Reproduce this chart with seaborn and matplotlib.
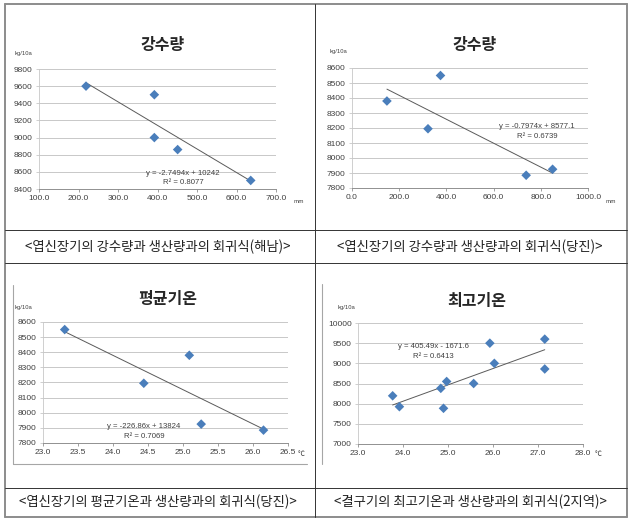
import numpy as np
import matplotlib
matplotlib.use("Agg")
import matplotlib.pyplot as plt
import seaborn as sns
from matplotlib.lines import Line2D
from matplotlib.ticker import FormatStrFormatter, MultipleLocator

# ---- data ----
rain_hn_x = [219, 392, 392, 451, 636]
rain_hn_y = [9600, 9500, 9000, 8860, 8500]
rain_hn_fit = [-2.7494, 10242]
rain_hn_r2 = "0.8077"

rain_dj_x = [148, 322, 375, 738, 850]
rain_dj_y = [8380, 8195, 8550, 7885, 7925]
rain_dj_fit = [-0.7974, 8577.1]
rain_dj_r2 = "0.6739"

tavg_dj_x = [23.31, 24.44, 25.09, 25.26, 26.15]
tavg_dj_y = [8550, 8195, 8380, 7925, 7885]
tavg_dj_fit = [-226.86, 13824]
tavg_dj_r2 = "0.7069"

tmax_x = [23.77, 23.92, 24.84, 24.90, 24.97, 25.57, 25.93, 26.03, 27.15, 27.15]
tmax_y = [8195, 7925, 8380, 7885, 8550, 8500, 9500, 9000, 9600, 8860]
tmax_fit = [405.49, -1671.6]
tmax_r2 = "0.6413"

titles = ["강수량", "강수량", "평균기온", "최고기온"]
captions = ["<엽신장기의 강수량과 생산량과의 회귀식(해남)>",
            "<엽신장기의 강수량과 생산량과의 회귀식(당진)>",
            "<엽신장기의 평균기온과 생산량과의 회귀식(당진)>",
            "<결구기의 최고기온과 생산량과의 회귀식(2지역)>"]
eq_texts = ["y = -2.7494x + 10242", "y = -0.7974x + 8577.1",
            "y = -226.86x + 13824", "y = 405.49x - 1671.6"]
units = ["mm", "mm", "℃", "℃"]

sns.set_style("white")
plt.rcParams["font.family"] = ["Liberation Sans", "Noto Sans CJK KR"]

W, H = 635, 524
fig = plt.figure(figsize=(W / 100, H / 100), dpi=100)


def fx(px):
    return px / W


def fy(py):
    return 1 - py / H


def hline(y, x0, x1, color="#333333", lw=0.7):
    fig.add_artist(Line2D([fx(x0), fx(x1)], [fy(y), fy(y)], color=color, lw=lw))


def vline(x, y0, y1, color="#333333", lw=0.7):
    fig.add_artist(Line2D([fx(x), fx(x)], [fy(y0), fy(y1)], color=color, lw=lw))


# table lines
hline(4, 5, 627, "#8c8c8c", 1.4)
hline(517, 5, 627, "#8c8c8c", 1.4)
vline(5, 4, 517, "#8c8c8c", 1.4)
vline(627, 4, 517, "#8c8c8c", 1.4)
vline(315, 4, 517)
hline(230, 5, 627)
hline(263, 5, 627)
hline(488, 5, 627)

# chart-area borders in lower row
vline(13, 285, 464, "#a6a6a6", 0.8)
hline(464, 13, 307, "#a6a6a6", 0.8)
vline(322, 284, 464, "#a6a6a6", 0.8)

panels = [
    dict(x=rain_hn_x, y=rain_hn_y, fit=rain_hn_fit, r2=rain_hn_r2,
         box=(39, 69, 276, 189), xlim=(100, 700), xstep=100, ylim=(8400, 9800), ystep=200,
         xfmt="%.1f", title=(163, 45), kg=(15, 53), unit=(294, 201), eq=(183, 173), cap=(158, 247)),
    dict(x=rain_dj_x, y=rain_dj_y, fit=rain_dj_fit, r2=rain_dj_r2,
         box=(352, 68, 588, 188), xlim=(0, 1000), xstep=200, ylim=(7800, 8600), ystep=100,
         xfmt="%.1f", title=(475, 45), kg=(330, 52), unit=(605, 201), eq=(537, 126), cap=(470, 247)),
    dict(x=tavg_dj_x, y=tavg_dj_y, fit=tavg_dj_fit, r2=tavg_dj_r2,
         box=(43, 322, 288, 443), xlim=(23, 26.5), xstep=0.5, ylim=(7800, 8600), ystep=100,
         xfmt="%.1f", title=(168, 299), kg=(15, 307), unit=(298, 454), eq=(144, 426), cap=(158, 502)),
    dict(x=tmax_x, y=tmax_y, fit=tmax_fit, r2=tmax_r2,
         box=(358, 323, 583, 444), xlim=(23, 28), xstep=1, ylim=(7000, 10000), ystep=500,
         xfmt="%.1f", title=(477, 301), kg=(338, 307), unit=(595, 454), eq=(433, 346), cap=(470, 502)),
]

for i, p in enumerate(panels):
    x0, y0, x1, y1 = p["box"]
    ax = fig.add_axes([fx(x0), fy(y1), fx(x1) - fx(x0), fy(y0) - fy(y1)])
    ax.set_facecolor("none")
    ax.set_xlim(*p["xlim"])
    ax.set_ylim(*p["ylim"])
    ax.xaxis.set_major_locator(MultipleLocator(p["xstep"]))
    ax.yaxis.set_major_locator(MultipleLocator(p["ystep"]))
    ax.xaxis.set_major_formatter(FormatStrFormatter(p["xfmt"]))
    ax.yaxis.set_major_formatter(FormatStrFormatter("%d"))
    ax.grid(axis="y", color="#c8c8c8", lw=0.7)
    ax.set_axisbelow(True)
    for s in ["top", "right"]:
        ax.spines[s].set_visible(False)
    ax.spines["bottom"].set_color("#909090")
    ax.spines["left"].set_color("#c8c8c8")
    ax.spines["bottom"].set_linewidth(0.7)
    ax.spines["left"].set_linewidth(0.6)
    ax.tick_params(axis="both", labelsize=6, colors="#404040", length=2.5, width=0.6, pad=2,
                   direction="out", bottom=True, left=True)
    ax.tick_params(axis="x", color="#909090")
    ax.tick_params(axis="y", color="#c8c8c8")

    xs = np.array([min(p["x"]), max(p["x"])])
    ax.plot(xs, p["fit"][0] * xs + p["fit"][1], color="#5a5a5a", lw=0.7, zorder=2)
    sns.scatterplot(x=p["x"], y=p["y"], ax=ax, marker="D", s=24, color="#4a7ebb",
                    edgecolor="none", zorder=3, clip_on=False)

    fig.text(fx(p["eq"][0]), fy(p["eq"][1]), eq_texts[i], ha="center", va="center",
             fontsize=5.6, color="#404040")
    fig.text(fx(p["eq"][0]), fy(p["eq"][1] + 10), "R² = " + p["r2"], ha="center", va="center",
             fontsize=5.6, color="#404040")

    fig.text(fx(p["title"][0]), fy(p["title"][1]), titles[i], ha="center", va="center",
             fontsize=11.5, fontweight="bold", family=["Noto Sans CJK KR"])
    fig.text(fx(p["kg"][0]), fy(p["kg"][1]), "kg/10a", ha="left", va="center",
             fontsize=4.2, color="#404040")
    fig.text(fx(p["unit"][0]), fy(p["unit"][1]), units[i], ha="left", va="center",
             fontsize=4.2 if units[i] == "mm" else 5, color="#404040",
             family=["Noto Sans CJK KR", "DejaVu Sans"])
    fig.text(fx(p["cap"][0]), fy(p["cap"][1]), captions[i], ha="center", va="center",
             fontsize=9.6, color="#222222", family=["Noto Sans CJK KR", "DejaVu Sans"])

fig.savefig("out.png", dpi=100)
